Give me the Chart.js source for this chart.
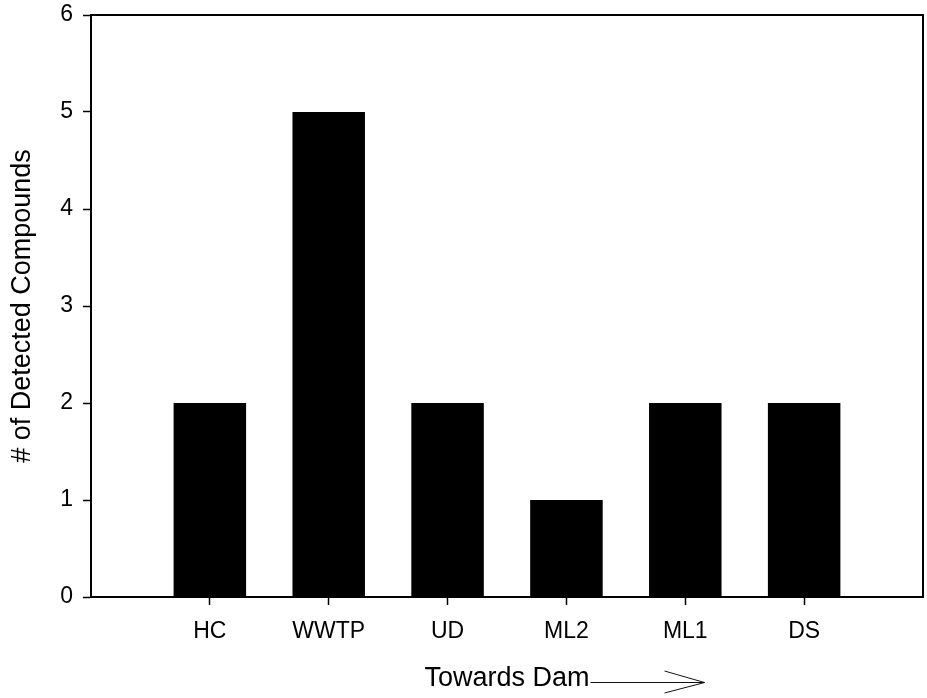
<!DOCTYPE html>
<html>
<head>
<meta charset="utf-8">
<script src="https://cdn.jsdelivr.net/npm/chart.js@4"></script>
<style>
  html, body { margin: 0; padding: 0; background: #ffffff; }
  #wrap { width: 927px; height: 698px; position: relative; }
</style>
</head>
<body>
<div id="wrap"><canvas id="chart" width="927" height="698"></canvas></div>
<script>
// Sampling sites, ordered downstream towards the dam
const sites = ['HC', 'WWTP', 'UD', 'ML2', 'ML1', 'DS'];
// Number of compounds detected at each site
const detectedCounts = [2, 5, 2, 1, 2, 2];
// Y-axis tick values
const yTicks = [0, 1, 2, 3, 4, 5, 6];

// Empty slots at both ends leave a gap between the frame and the outer bars
const labels = [''].concat(sites, ['']);
const values = [null].concat(detectedCounts, [null]);

const FONT = "'Liberation Sans', Arial, Helvetica, sans-serif";

// Closes the plot frame (top and right edges)
const framePlugin = {
  id: 'frame',
  afterDraw(chart) {
    const { ctx, chartArea: a } = chart;
    ctx.save();
    ctx.strokeStyle = '#000';
    ctx.lineWidth = 2;
    ctx.beginPath();
    ctx.moveTo(a.left, a.top);
    ctx.lineTo(a.right, a.top);
    ctx.lineTo(a.right, a.bottom);
    ctx.stroke();
    ctx.restore();
  }
};

// Arrow trailing the x-axis title
const arrowPlugin = {
  id: 'titleArrow',
  afterDraw(chart) {
    const x = chart.scales.x;
    const t = x.options.title;
    const ctx = chart.ctx;
    ctx.save();
    ctx.font = t.font.size + 'px ' + FONT;
    const w = ctx.measureText(t.text).width;
    const cx = (x.left + x.right) / 2;
    const lineH = t.font.size * t.font.lineHeight;
    const y = Math.round(x.bottom - lineH / 2 - t.padding.bottom + 3);
    const x0 = cx + w / 2 + 1;
    const x1 = x0 + 114;
    ctx.strokeStyle = '#111';
    ctx.lineWidth = 1;
    ctx.beginPath();
    ctx.moveTo(x0, y + 0.5);
    ctx.lineTo(x1, y + 0.5);
    ctx.moveTo(x1 - 40, y - 11);
    ctx.lineTo(x1, y + 0.5);
    ctx.lineTo(x1 - 40, y + 11);
    ctx.stroke();
    ctx.restore();
  }
};

new Chart(document.getElementById('chart'), {
  type: 'bar',
  data: {
    labels: labels,
    datasets: [{
      data: values,
      backgroundColor: '#000000',
      borderWidth: 0,
      barPercentage: 0.61,
      categoryPercentage: 1.0
    }]
  },
  options: {
    responsive: false,
    animation: false,
    devicePixelRatio: 1,
    layout: { padding: { top: 15, right: 4, left: 0, bottom: 0 } },
    plugins: { legend: { display: false }, tooltip: { enabled: false } },
    scales: {
      x: {
        offset: false,
        grid: {
          offset: false,
          drawOnChartArea: false,
          drawTicks: true,
          tickLength: 8,
          tickWidth: 1.5,
          tickColor: (c) => (c.index === 0 || c.index === labels.length - 1) ? 'rgba(0,0,0,0)' : '#000'
        },
        border: { display: true, color: '#000', width: 2 },
        ticks: {
          color: '#000',
          padding: 13,
          maxRotation: 0,
          autoSkip: false,
          font: { family: FONT, size: 23 }
        },
        title: {
          display: true,
          text: 'Towards Dam',
          color: '#000',
          font: { family: FONT, size: 27, lineHeight: 1.2 },
          padding: { top: 0, bottom: 3 }
        },
        afterFit(scale) {
          scale.height = 101;
          scale.paddingLeft = 0;
          scale.paddingRight = 0;
        }
      },
      y: {
        min: 0,
        max: 6,
        afterBuildTicks(scale) { scale.ticks = yTicks.map(v => ({ value: v })); },
        grid: {
          drawOnChartArea: false,
          drawTicks: true,
          tickLength: 8,
          tickWidth: 1.5,
          tickColor: '#000'
        },
        border: { display: true, color: '#000', width: 2 },
        ticks: {
          color: '#000',
          padding: 10,
          font: { family: FONT, size: 23 }
        },
        title: {
          display: true,
          text: '# of Detected Compounds',
          color: '#000',
          font: { family: FONT, size: 27, lineHeight: 1.2 },
          padding: { top: 6, bottom: 0 }
        },
        afterFit(scale) {
          scale.width = 91;
          scale.paddingTop = 0;
          scale.paddingBottom = 0;
        }
      }
    }
  },
  plugins: [framePlugin, arrowPlugin]
});
</script>
</body>
</html>
